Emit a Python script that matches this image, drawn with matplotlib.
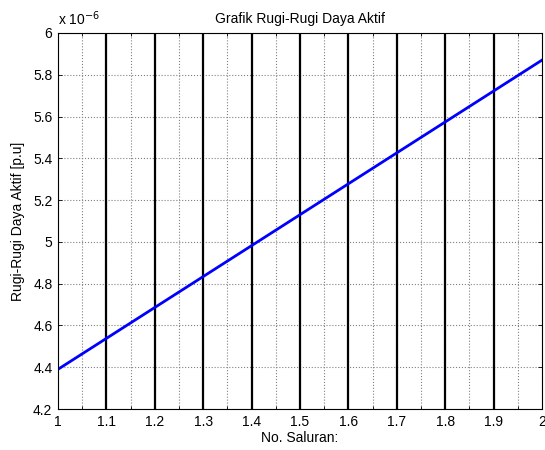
import matplotlib
matplotlib.use('Agg')
import matplotlib.pyplot as plt
import numpy as np
from matplotlib.ticker import MultipleLocator, FuncFormatter

plt.rcParams['font.family'] = ['Liberation Sans', 'DejaVu Sans']

# data (values in units of 1e-6 p.u.)
saluran = [1.0, 1.1, 1.2, 1.3, 1.4, 1.5, 1.6, 1.7, 1.8, 1.9, 2.0]
rugi = [4.39, 4.538, 4.686, 4.834, 4.982, 5.13, 5.278, 5.426, 5.574, 5.722, 5.87]
garis_x = [1.1, 1.2, 1.3, 1.4, 1.5, 1.6, 1.7, 1.8, 1.9]

fig = plt.figure(figsize=(5.45, 4.5), dpi=100)
ax = fig.add_axes([0.1064, 0.0911, 0.888, 0.8356])

# thick black vertical lines
for gx in garis_x:
    ax.plot([gx, gx], [4.2, 6.0], color='black', lw=1.6)

ax.plot(saluran, rugi, color='#0000ff', lw=2)

ax.set_xlim(1, 2)
ax.set_ylim(4.2, 6)
ax.xaxis.set_major_locator(MultipleLocator(0.1))
ax.xaxis.set_minor_locator(MultipleLocator(0.05))
ax.yaxis.set_major_locator(MultipleLocator(0.2))
ax.xaxis.set_major_formatter(FuncFormatter(lambda v, p: f'{v:g}'))
ax.yaxis.set_major_formatter(FuncFormatter(lambda v, p: f'{v:g}'))
ax.grid(which='both', axis='x', color='#808080', ls=':', lw=0.8)
ax.grid(which='major', axis='y', color='#808080', ls=':', lw=0.8)
ax.tick_params(which='both', direction='in', top=True, right=True,
               labelsize=10, length=3, width=0.6, pad=4)
ax.tick_params(which='minor', length=2)
for s in ax.spines.values():
    s.set_linewidth(0.8)

ax.set_title('Grafik Rugi-Rugi Daya Aktif', fontsize=10, pad=7)
ax.set_xlabel('No. Saluran:', fontsize=10, labelpad=2)
ax.set_ylabel('Rugi-Rugi Daya Aktif [p.u]', fontsize=10, labelpad=6)
ax.text(0.0, 1.012, r'x 10$^{-6}$', transform=ax.transAxes, fontsize=10,
        ha='left', va='bottom')

fig.savefig('out.png', dpi=100)
